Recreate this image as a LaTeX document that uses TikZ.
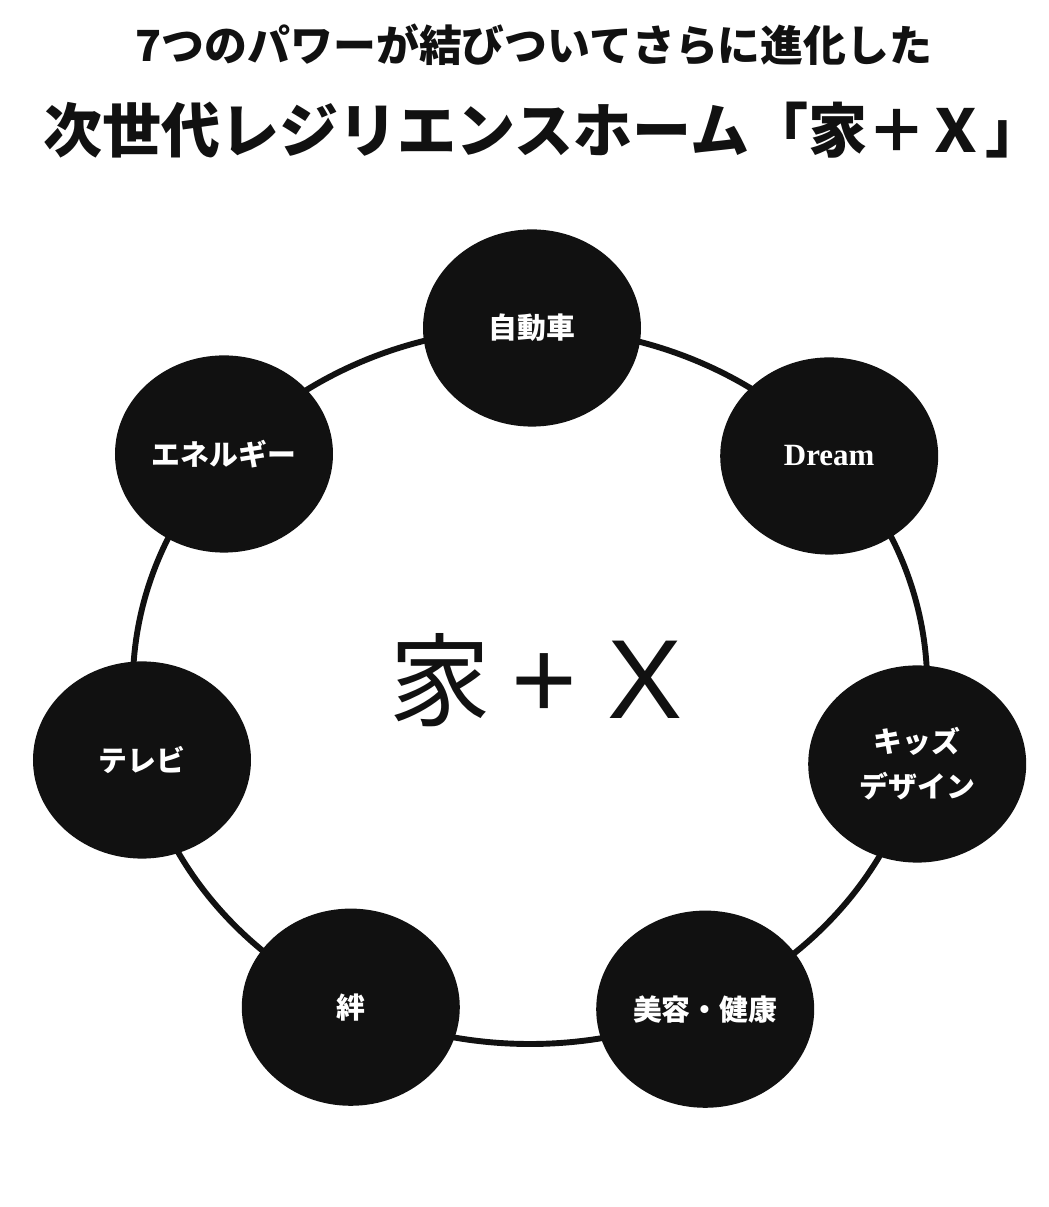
\documentclass[tikz,border=0pt]{standalone}
\usepackage{fontspec}
\usepackage{tikz}
\usetikzlibrary{shapes.geometric}
\newfontfamily\jpfont{Noto Sans CJK JP}
\newfontfamily\romanfont{Liberation Serif}
\newfontfamily\grotfont{Liberation Sans}
\definecolor{kxInk}{HTML}{111111}
\definecolor{kxPaper}{HTML}{FFFFFF}
\tikzset{
  kxRing/.style={draw=kxInk,line width=4.2pt},
  kxPower/.style={ellipse,fill=kxInk,draw=none,text=kxPaper,
    minimum width=5.45cm,minimum height=4.93cm,inner sep=0pt,
    align=center,font=\jpfont\bfseries\fontsize{20.5}{32}\selectfont},
  kxTitle/.style={text=kxInk,inner sep=0pt}
}
\begin{document}
\begin{tikzpicture}[
  lead/.style={kxTitle,font=\jpfont\bfseries\fontsize{30.5}{36}\selectfont},
  headline/.style={kxTitle,font=\jpfont\bfseries\fontsize{42}{48}\selectfont}]
\useasboundingbox[fill=kxPaper] (-13.25,-13.025) rectangle (12.95,17.15);
\node[lead] (sub) at (0.1,16.02) {7つのパワーが結びついてさらに進化した};
\node[headline] (title) at (0.35,13.9) {次世代レジリエンスホーム「家＋Ｘ」};
% the ring behind the seven powers
\draw[kxRing] (0,0) ellipse [x radius=9.93,y radius=8.95];
\node[kxPower] (car) at (0.05,8.95) {自動車};
\node[kxPower,font=\romanfont\bfseries\fontsize{22}{26}\selectfont] (dream) at (7.48,5.75) {Dream};
\node[kxPower] (kids) at (9.68,-1.95) {キッズ\\デザイン};
\node[kxPower] (beauty) at (4.38,-8.08) {美容・健康};
\node[kxPower] (bond) at (-4.48,-8.03) {絆};
\node[kxPower] (tv) at (-9.70,-1.85) {テレビ};
\node[kxPower] (energy) at (-7.65,5.80) {エネルギー};
\node[kxTitle,font=\grotfont\fontsize{80}{90}\selectfont] (core) at (0.15,0.15)
  {{\jpfont\fontsize{72}{80}\selectfont 家}\hspace{15pt}+\hspace{22pt}X};
\end{tikzpicture}
\end{document}
